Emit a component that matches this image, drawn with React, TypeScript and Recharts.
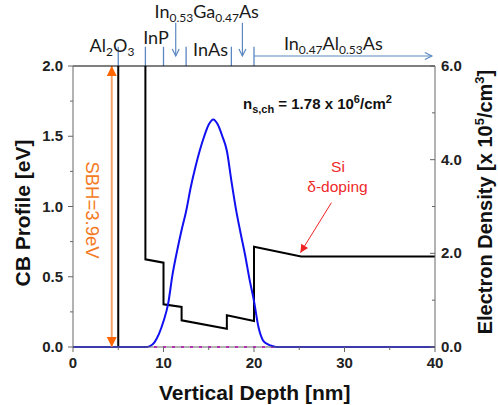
import { ComposedChart, Line, ReferenceLine, XAxis, YAxis } from "recharts";

const depthTicks = [0, 5, 10, 15, 20, 25, 30, 35, 40];
const cbTicks = [0, 0.25, 0.5, 0.75, 1, 1.25, 1.5, 1.75, 2];
const densityTicks = [0, 1, 2, 3, 4, 5, 6];

// conduction band profile [eV] vs depth [nm]
const cbDepth = [0, 5, 5, 8, 8, 10, 10, 12, 12, 17, 17, 20, 20, 25.2, 40];
const cbEnergy = [0, 0, 3.9, 3.9, 0.624, 0.6, 0.304, 0.285, 0.19, 0.13, 0.226, 0.185, 0.714, 0.645, 0.645];

// electron density [x 1e5 /cm3]
const nDepth = [0, 8, 8.5, 9, 9.5, 10, 10.5, 11, 11.5, 12, 12.5, 13, 13.5, 14, 14.5, 15, 15.5, 16, 16.5, 17, 17.5, 18, 18.5, 19, 19.5, 20, 20.5, 21, 21.5, 22, 22.5, 40];
const nDensity = [0, 0, 0.02, 0.1, 0.28, 0.55, 0.91, 1.55, 2.05, 2.5, 2.9, 3.4, 3.82, 4.19, 4.5, 4.75, 4.86, 4.75, 4.5, 4.19, 3.55, 2.95, 2.45, 1.98, 1.45, 0.98, 0.42, 0.14, 0.06, 0.02, 0, 0];

// Fermi level (0 on both axes)
const efDepth = [0, 40];
const efLevel = [0, 0];

// layer boundaries marked above the plot
const layerEdges = [5, 8, 10, 12.5, 17.5, 20];

const cbData = cbDepth.map((x, i) => ({ x, e: cbEnergy[i] }));
const nData = nDepth.map((x, i) => ({ x, n: nDensity[i] }));
const efData = efDepth.map((x, i) => ({ x, e: efLevel[i] }));

const ARIAL = "'Liberation Sans', Arial, sans-serif";
const CALIBRI = "Lato, 'Open Sans', sans-serif";
const AXIS = "#666";
const SEP = "#5a87c2";

const BottomTick = (p: any) => {
  const { x, y, payload } = p;
  const major = payload.value % 10 === 0;
  return (
    <g>
      <line x1={x} x2={x} y1={y} y2={y + (major ? 5 : 3)} stroke={AXIS} />
      {major && (
        <text x={x} y={y + 21} textAnchor="middle" fontSize={15} fontWeight="bold" fontFamily={ARIAL} fill="#222">
          {payload.value}
        </text>
      )}
    </g>
  );
};

const TopTick = (p: any) => {
  const { x, y, payload } = p;
  if (payload.value === 0 || payload.value === 40) return <g />;
  return <line x1={x} x2={x} y1={y} y2={y - 3} stroke="#333" />;
};

const LeftTick = (p: any) => {
  const { x, y, payload } = p;
  const major = Math.abs(payload.value * 2 - Math.round(payload.value * 2)) < 1e-6;
  return (
    <g>
      <line x1={x} x2={x - (major ? 5 : 3)} y1={y} y2={y} stroke={AXIS} />
      {major && (
        <text x={x - 10} y={y + 5} textAnchor="end" fontSize={15} fontWeight="bold" fontFamily={ARIAL} fill="#222">
          {payload.value.toFixed(1)}
        </text>
      )}
    </g>
  );
};

const RightTick = (p: any) => {
  const { x, y, payload } = p;
  const major = payload.value % 2 === 0;
  return (
    <g>
      <line x1={x} x2={x - (major ? 5 : 3)} y1={y} y2={y} stroke={AXIS} />
      {major && (
        <text x={x + 6} y={y + 5} textAnchor="start" fontSize={15} fontWeight="bold" fontFamily={ARIAL} fill="#222">
          {payload.value.toFixed(1)}
        </text>
      )}
    </g>
  );
};

type ArrowStyle = {
  color: string;
  head: "open" | "filled";
  both?: boolean;
  headColor?: string;
  width?: number;
  size?: number;
};

const arrowShape = (s: ArrowStyle) => (p: any) => {
  const { x1, y1, x2, y2 } = p;
  const len = Math.hypot(x2 - x1, y2 - y1) || 1;
  const ux = (x2 - x1) / len;
  const uy = (y2 - y1) / len;
  const L = s.size ?? 8;
  const W = L * 0.5;
  const head = (tx: number, ty: number, dx: number, dy: number) => {
    const bx = tx - dx * L;
    const by = ty - dy * L;
    const px = -dy * W;
    const py = dx * W;
    const pts = `${bx + px},${by + py} ${tx},${ty} ${bx - px},${by - py}`;
    return s.head === "filled" ? (
      <polygon points={pts} fill={s.headColor ?? s.color} />
    ) : (
      <polyline points={pts} fill="none" stroke={s.headColor ?? s.color} strokeWidth={s.width ?? 1.2} />
    );
  };
  return (
    <g>
      <line x1={x1} y1={y1} x2={x2} y2={y2} stroke={s.color} strokeWidth={s.width ?? 1.2} />
      {head(x2, y2, ux, uy)}
      {s.both && head(x1, y1, -ux, -uy)}
    </g>
  );
};

export default function App() {
  return (
    <div style={{ position: "absolute", left: 0, top: 0, width: 498, height: 405, background: "#fff" }}>
      <ComposedChart width={498} height={405} margin={{ top: 65, right: 0, bottom: 0, left: 0 }}>
        <XAxis
          xAxisId="b"
          dataKey="x"
          type="number"
          domain={[0, 40]}
          ticks={depthTicks}
          interval={0}
          height={58}
          tickSize={0}
          tickMargin={0}
          tickLine={false}
          tick={BottomTick}
          axisLine={{ stroke: AXIS }}
        />
        <XAxis
          xAxisId="t"
          orientation="top"
          dataKey="x"
          type="number"
          domain={[0, 40]}
          ticks={depthTicks}
          interval={0}
          height={1}
          tickSize={0}
          tickMargin={0}
          tickLine={false}
          tick={TopTick}
          axisLine={{ stroke: "#000" }}
        />
        <YAxis
          yAxisId="l"
          type="number"
          domain={[0, 2]}
          ticks={cbTicks}
          interval={0}
          width={73}
          tickSize={0}
          tickMargin={0}
          tickLine={false}
          tick={LeftTick}
          axisLine={{ stroke: AXIS }}
          allowDataOverflow
        />
        <YAxis
          yAxisId="r"
          orientation="right"
          type="number"
          domain={[0, 6]}
          ticks={densityTicks}
          interval={0}
          width={63}
          tickSize={0}
          tickMargin={0}
          tickLine={false}
          tick={RightTick}
          axisLine={{ stroke: AXIS }}
        />

        <Line
          xAxisId="b"
          yAxisId="r"
          data={efData}
          dataKey="e"
          type="linear"
          stroke="#ff00ff"
          strokeWidth={2}
          strokeDasharray="3 6"
          dot={false}
          activeDot={false}
          isAnimationActive={false}
        />
        <Line
          xAxisId="b"
          yAxisId="l"
          data={cbData}
          dataKey="e"
          type="linear"
          stroke="#000"
          strokeWidth={2}
          dot={false}
          activeDot={false}
          isAnimationActive={false}
        />
        <Line
          xAxisId="b"
          yAxisId="r"
          data={nData}
          dataKey="n"
          type="monotone"
          stroke="#1010f0"
          strokeWidth={2}
          dot={false}
          activeDot={false}
          isAnimationActive={false}
        />

        {layerEdges.map((d) => (
          <ReferenceLine
            key={d}
            xAxisId="b"
            yAxisId="l"
            segment={[{ x: d, y: 2 }, { x: d, y: 2.137 }]}
            stroke={SEP}
            strokeWidth={1.3}
            ifOverflow="visible"
          />
        ))}
        <ReferenceLine
          xAxisId="b"
          yAxisId="l"
          segment={[{ x: 11.35, y: 2.308 }, { x: 11.35, y: 2.071 }]}
          ifOverflow="visible"
          shape={arrowShape({ color: SEP, head: "open", size: 7 })}
        />
        <ReferenceLine
          xAxisId="b"
          yAxisId="l"
          segment={[{ x: 18.72, y: 2.308 }, { x: 18.72, y: 2.071 }]}
          ifOverflow="visible"
          shape={arrowShape({ color: SEP, head: "open", size: 7 })}
        />
        <ReferenceLine
          xAxisId="b"
          yAxisId="l"
          segment={[{ x: 20, y: 2.071 }, { x: 39.65, y: 2.071 }]}
          ifOverflow="visible"
          shape={arrowShape({ color: SEP, head: "open", size: 7 })}
        />
        <ReferenceLine
          xAxisId="b"
          yAxisId="l"
          segment={[{ x: 4.28, y: 0 }, { x: 4.28, y: 2 }]}
          ifOverflow="visible"
          shape={arrowShape({ color: "#f4a36c", headColor: "#ff6600", head: "filled", both: true, width: 2, size: 10 })}
        />
        <ReferenceLine
          xAxisId="b"
          yAxisId="l"
          segment={[{ x: 28.55, y: 1.027 }, { x: 25.13, y: 0.671 }]}
          ifOverflow="visible"
          shape={arrowShape({ color: "#ee2222", head: "filled", width: 1, size: 8 })}
        />
      </ComposedChart>

      <svg
        width={498}
        height={405}
        style={{ position: "absolute", left: 0, top: 0, pointerEvents: "none" }}
      >
        <g fontFamily={CALIBRI} fontSize={18} fill="#1a1a1a">
          <text x={112} y={52} textAnchor="middle">
            Al<tspan fontSize={12} dy={4}>2</tspan>
            <tspan dy={-4}>O</tspan>
            <tspan fontSize={12} dy={4}>3</tspan>
          </text>
          <text x={156} y={43.5} textAnchor="middle">InP</text>
          <text x={206.7} y={17.5} textAnchor="middle">
            In<tspan fontSize={12} dy={4}>0.53</tspan>
            <tspan dy={-4}>Ga</tspan>
            <tspan fontSize={12} dy={4}>0.47</tspan>
            <tspan dy={-4}>As</tspan>
          </text>
          <text x={210.5} y={56} textAnchor="middle">InAs</text>
          <text x={333.3} y={49.5} textAnchor="middle">
            In<tspan fontSize={12} dy={4}>0.47</tspan>
            <tspan dy={-4}>Al</tspan>
            <tspan fontSize={12} dy={4}>0.53</tspan>
            <tspan dy={-4}>As</tspan>
          </text>
        </g>

        <text x={243} y={109} fontFamily={ARIAL} fontSize={15} fontWeight="bold" fill="#111">
          n<tspan fontSize={11} dy={4}>s,ch</tspan>
          <tspan dy={-4}> = 1.78 x 10</tspan>
          <tspan fontSize={11} dy={-6}>6</tspan>
          <tspan dy={6}>/cm</tspan>
          <tspan fontSize={11} dy={-6}>2</tspan>
        </text>

        <g fontFamily={ARIAL} fontSize={15.5} fill="#ee2a2a" textAnchor="middle">
          <text x={338} y={172}>Si</text>
          <text x={337.5} y={192}>δ-doping</text>
        </g>

        <text
          transform="translate(85.5,210) rotate(90)"
          textAnchor="middle"
          fontFamily={ARIAL}
          fontSize={18.5}
          fill="#f47920"
        >
          SBH=3.9eV
        </text>

        <text
          transform="translate(30,213) rotate(-90)"
          textAnchor="middle"
          fontFamily={ARIAL}
          fontSize={21}
          fontWeight="bold"
          fill="#111"
        >
          CB Profile [eV]
        </text>
        <text x={254.7} y={400} textAnchor="middle" fontFamily={ARIAL} fontSize={21} fontWeight="bold" fill="#111">
          Vertical Depth [nm]
        </text>
        <text
          transform="translate(492,202) rotate(-90)"
          textAnchor="middle"
          fontFamily={ARIAL}
          fontSize={20}
          fontWeight="bold"
          fill="#111"
        >
          Electron Density [x 10<tspan fontSize={13} dy={-8}>5</tspan>
          <tspan dy={8}>/cm</tspan>
          <tspan fontSize={13} dy={-8}>3</tspan>
          <tspan dy={8}>]</tspan>
        </text>
      </svg>
    </div>
  );
}
